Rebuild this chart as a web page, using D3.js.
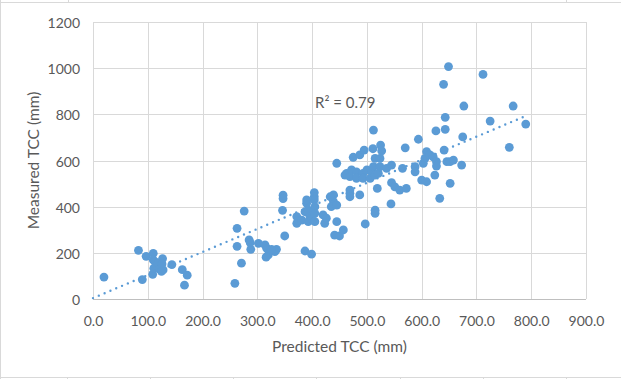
<!DOCTYPE html>
<html>
<head>
<meta charset="utf-8">
<script src="https://cdn.jsdelivr.net/npm/d3@7"></script>
<style>
  html, body { margin: 0; padding: 0; background: #ffffff; }
  svg { display: block; }
  text { font-family: Lato, "Open Sans", sans-serif; fill: #595959; }
</style>
</head>
<body>
<svg id="chart" width="621" height="379"></svg>
<script>
// ---- data ----
const predicted = [
  20, 83, 90, 97, 110, 110, 109, 111, 117, 113, 119, 122, 127, 128, 126, 125, 144, 163, 172, 167,
  259, 263, 276, 263, 271, 285, 288, 287, 302,
  317, 320, 316, 332, 335, 326, 314, 347, 347, 346, 350,
  372, 372, 375, 381, 387, 399, 390, 387, 393, 396, 393, 399, 404, 404, 404, 405, 405, 405, 390,
  420, 423, 426, 445, 441, 450, 457, 439, 439, 435, 445, 433, 445,
  469, 469, 469, 487, 497, 515, 515, 519, 460, 463, 469, 472, 475, 481, 481, 487, 493, 493, 495, 500, 506, 509, 511, 512, 512, 515, 515, 521,
  524, 524, 525, 527, 536, 545, 545, 544, 551, 560, 572, 565, 570,
  588, 588, 594, 600, 609, 603, 606, 609, 615, 621, 627, 627, 624, 633, 641, 643, 626, 643, 640, 649, 646, 652, 658, 652, 673, 675, 677,
  712, 725, 760, 767, 790
];
const measured = [
  95, 211, 84, 185, 198, 169, 107, 133, 143, 162, 155, 129, 175, 126, 152, 120, 149, 127, 103, 60,
  68, 306, 381, 228, 155, 256, 215, 244, 241,
  220, 191, 181, 205, 215, 215, 234, 450, 435, 384, 273,
  357, 328, 342, 342, 208, 194, 415, 378, 385, 357, 335, 350, 461, 443, 429, 400, 371, 335, 429,
  364, 328, 350, 335, 277, 273, 299, 451, 422, 400, 407, 443, 588,
  458, 472, 443, 451, 325, 371, 385, 479, 537, 544, 530, 559, 614, 551, 523, 624, 544, 523, 645, 559, 523, 551, 651, 732, 573, 537, 609, 544,
  609, 573, 667, 642, 566, 580, 504, 412, 486, 472, 479, 566, 655,
  573, 551, 692, 515, 508, 588, 609, 638, 624, 616, 595, 576, 537, 436, 645, 735, 728, 787, 930, 1007, 595, 595, 602, 501, 580, 702, 836,
  973, 771, 657, 836, 758
];
// linear trendline end points
const trendX = [0, 790];
const trendY = [4, 793];
const r2Label = "R\u00B2 = 0.79";
const xTicks = [0, 100, 200, 300, 400, 500, 600, 700, 800, 900];
const yTicks = [0, 200, 400, 600, 800, 1000, 1200];
const xTitle = "Predicted TCC (mm)";
const yTitle = "Measured TCC (mm)";

// ---- drawing ----
const svg = d3.select("#chart");
const W = 621, H = 379;
const x = d3.scaleLinear().domain([0, 900]).range([93, 586]);
const y = d3.scaleLinear().domain([0, 1200]).range([299, 22]);
const px = v => Math.round(v) + 0.5;

// outer chart frame and spreadsheet cell lines
const frame = svg.append("g").attr("stroke", "#D9D9D9").attr("stroke-width", 1).attr("fill", "none");
frame.append("line").attr("x1", 0).attr("x2", W).attr("y1", 2.5).attr("y2", 2.5);
frame.append("line").attr("x1", 0).attr("x2", W).attr("y1", 377.5).attr("y2", 377.5);
frame.append("line").attr("x1", 0.5).attr("x2", 0.5).attr("y1", 0).attr("y2", H);
[68, 566].forEach(c => frame.append("line").attr("x1", c + 0.5).attr("x2", c + 0.5).attr("y1", 0).attr("y2", 2));
[67, 150, 233, 316, 400, 483, 566].forEach(c => frame.append("line").attr("x1", c + 0.5).attr("x2", c + 0.5).attr("y1", 378).attr("y2", H));

// gridlines
const grid = svg.append("g").attr("stroke", "#D9D9D9").attr("stroke-width", 1);
grid.selectAll("line.v").data(xTicks).join("line")
  .attr("x1", d => px(x(d))).attr("x2", d => px(x(d)))
  .attr("y1", y(1200)).attr("y2", y(0));
grid.selectAll("line.h").data(yTicks).join("line")
  .attr("x1", x(0)).attr("x2", x(900))
  .attr("y1", d => px(y(d))).attr("y2", d => px(y(d)));
// x axis line
svg.append("line").attr("stroke", "#BFBFBF").attr("stroke-width", 1)
  .attr("x1", x(0)).attr("x2", x(900)).attr("y1", px(y(0))).attr("y2", px(y(0)));

// tick labels via d3 axes (no domain / tick lines)
const xAxis = d3.axisBottom(x).tickValues(xTicks).tickFormat(d3.format(".1f")).tickSize(0).tickPadding(0);
const gx = svg.append("g").attr("transform", `translate(0, ${y(0)})`).call(xAxis);
gx.select(".domain").remove();
gx.selectAll("text").attr("dy", null).attr("y", 21).attr("dominant-baseline", "central")
  .style("font-size", "14px").style("fill", "#595959").style("font-family", "Lato, sans-serif");

const yAxis = d3.axisLeft(y).tickValues(yTicks).tickFormat(d3.format("d")).tickSize(0).tickPadding(0);
const gy = svg.append("g").attr("transform", `translate(${x(0)}, 0)`).call(yAxis);
gy.select(".domain").remove();
gy.selectAll("text").attr("dy", null).attr("x", -13).attr("dominant-baseline", "central")
  .style("font-size", "14px").style("fill", "#595959").style("font-family", "Lato, sans-serif");

// trendline (dotted)
svg.append("line")
  .attr("x1", x(trendX[0])).attr("y1", y(trendY[0]))
  .attr("x2", x(trendX[1])).attr("y2", y(trendY[1]))
  .attr("stroke", "#5B9BD5").attr("stroke-width", 2.4)
  .attr("stroke-linecap", "round").attr("stroke-dasharray", "0 6.3");

// points
const pts = predicted.map((p, i) => ({ p, m: measured[i] }));
svg.append("g").selectAll("circle").data(pts).join("circle")
  .attr("cx", d => x(d.p)).attr("cy", d => y(d.m)).attr("r", 4.4)
  .attr("fill", "#5B9BD5");

// R² label
svg.append("text").attr("x", 315).attr("y", 102).attr("dominant-baseline", "central")
  .style("font-size", "15px").text(r2Label);

// axis titles
svg.append("text").attr("x", (x(0) + x(900)) / 2).attr("y", 346)
  .attr("text-anchor", "middle").attr("dominant-baseline", "central")
  .style("font-size", "15.5px").text(xTitle);
svg.append("text").attr("transform", `translate(33, ${(y(0) + y(1200)) / 2}) rotate(-90)`)
  .attr("text-anchor", "middle").attr("dominant-baseline", "central")
  .style("font-size", "15.5px").text(yTitle);
</script>
</body>
</html>
